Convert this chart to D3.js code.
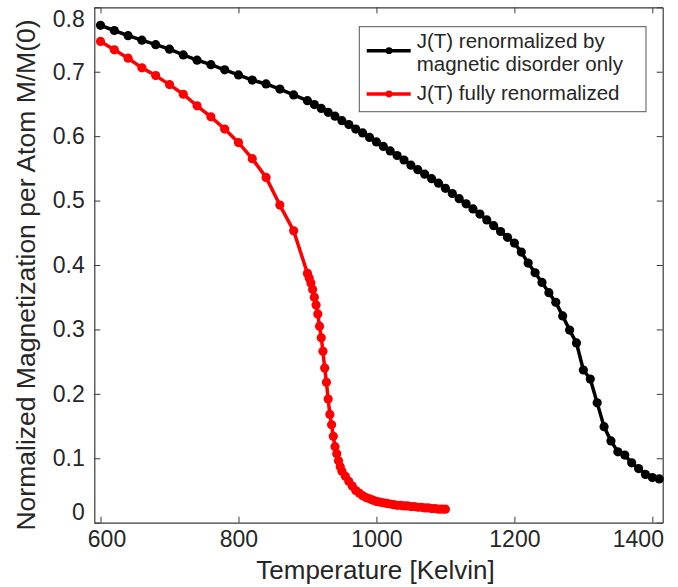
<!DOCTYPE html>
<html>
<head>
<meta charset="utf-8">
<script src="https://cdn.jsdelivr.net/npm/d3@7"></script>
<style>
  body { margin: 0; background: #fff; }
  text { font-family: "Liberation Sans", Arial, Helvetica, sans-serif; fill: #262626; }
</style>
</head>
<body>
<div class="chart"></div>
<script>
// Data
//= ================================
var blackTemps = [600, 620, 640, 660, 680, 700, 720, 740, 760, 780, 800, 820, 840, 860, 880,
  900, 910, 920, 930, 940, 950, 960, 970, 980, 990, 1000, 1010, 1020, 1030, 1040, 1050,
  1060, 1070, 1080, 1090, 1100, 1110, 1120, 1130, 1140, 1150, 1160, 1170, 1180, 1190, 1200,
  1210, 1220, 1230, 1240, 1250, 1260, 1270, 1280, 1290, 1300, 1310, 1320, 1330, 1340, 1350,
  1360, 1370, 1380, 1390, 1400, 1410];
var blackMag = [0.772, 0.764, 0.756, 0.749, 0.742, 0.735, 0.726, 0.718, 0.711, 0.703, 0.695, 0.687, 0.681, 0.673, 0.664,
  0.655, 0.649, 0.643, 0.637, 0.631, 0.624, 0.618, 0.611, 0.605, 0.598, 0.591, 0.584, 0.577, 0.570, 0.563, 0.555,
  0.548, 0.541, 0.534, 0.527, 0.519, 0.511, 0.503, 0.495, 0.487, 0.479, 0.470, 0.461, 0.452, 0.443, 0.434,
  0.420, 0.403, 0.388, 0.373, 0.357, 0.342, 0.321, 0.299, 0.279, 0.237, 0.223, 0.186, 0.149, 0.127, 0.110,
  0.105, 0.093, 0.084, 0.075, 0.070, 0.068];

var redTemps = [600, 620, 640, 660, 680, 700, 720, 740, 760, 780, 800, 820, 840, 860, 880,
  900, 902.5, 905, 907.5, 910, 912.5, 915, 917.5, 920, 922.5, 925, 927.5, 930, 932.5, 935,
  937.5, 940, 942.5, 945, 947.5, 950,
  955, 960, 965, 970, 975, 980, 985, 990, 995, 1000, 1005, 1010, 1015, 1020, 1025,
  1030, 1035, 1040, 1045, 1050, 1055, 1060, 1065, 1070, 1075, 1080, 1085, 1090, 1095, 1100];
var redMag = [0.747, 0.734, 0.721, 0.706, 0.694, 0.680, 0.665, 0.647, 0.630, 0.611, 0.590, 0.565, 0.536, 0.493, 0.453,
  0.387, 0.380, 0.372, 0.362, 0.350, 0.338, 0.324, 0.305, 0.287, 0.266, 0.240, 0.218, 0.192, 0.168, 0.152,
  0.134, 0.118, 0.107, 0.096, 0.087, 0.080,
  0.072, 0.064, 0.057, 0.050, 0.046, 0.042, 0.039, 0.037, 0.035, 0.033, 0.032, 0.031, 0.030, 0.029, 0.028,
  0.027, 0.027, 0.026, 0.026, 0.025, 0.025, 0.024, 0.024, 0.023, 0.023, 0.022, 0.022, 0.021, 0.021, 0.021];

var xTicks = [600, 800, 1000, 1200, 1400];
var yTicks = [0, 0.1, 0.2, 0.3, 0.4, 0.5, 0.6, 0.7, 0.8];
var yTickLabels = ["0", "0.1", "0.2", "0.3", "0.4", "0.5", "0.6", "0.7", "0.8"];

var seriesNames = ["J(T) renormalized by|magnetic disorder only", "J(T) fully renormalized"];
var seriesColors = ["#000000", "#ff0000"];

// Step 0: Set up the chart
//= ================================
var svgWidth = 678;
var svgHeight = 587;
var margin = { top: 7.3, right: 15.3, bottom: 64.3, left: 94.3 };
var width = svgWidth - margin.left - margin.right;
var height = svgHeight - margin.top - margin.bottom;

var svg = d3.select(".chart")
  .append("svg")
  .attr("width", svgWidth)
  .attr("height", svgHeight);

var chart = svg.append("g")
  .attr("transform", "translate(" + margin.left + "," + margin.top + ")");

var xLinearScale = d3.scaleLinear().domain([591, 1415]).range([0, width]);
var yLinearScale = d3.scaleLinear().domain([0, 0.8]).range([height, 0]);

// Axes (ticks pointing inward, box on)
var bottomAxis = d3.axisBottom(xLinearScale).tickValues(xTicks)
  .tickSizeInner(-6).tickSizeOuter(0).tickPadding(7.5).tickFormat(d3.format("d"));
var topAxis = d3.axisTop(xLinearScale).tickValues(xTicks)
  .tickSizeInner(-6).tickSizeOuter(0).tickFormat("");
var leftAxis = d3.axisLeft(yLinearScale).tickValues(yTicks)
  .tickSizeInner(-6).tickSizeOuter(0).tickPadding(9.5)
  .tickFormat(function(d, i) { return yTickLabels[i]; });
var rightAxis = d3.axisRight(yLinearScale).tickValues(yTicks)
  .tickSizeInner(-6).tickSizeOuter(0).tickFormat("");

var gx = chart.append("g").attr("class", "x-axis")
  .attr("transform", "translate(0," + height + ")").call(bottomAxis);
var gy = chart.append("g").attr("class", "y-axis").call(leftAxis);
chart.append("g").attr("transform", "translate(0,0)").call(topAxis);
chart.append("g").attr("transform", "translate(" + width + ",0)").call(rightAxis);

chart.selectAll(".domain").attr("stroke", "#3a3a3a").attr("stroke-width", 1.2);
chart.selectAll(".tick line").attr("stroke", "#3a3a3a").attr("stroke-width", 1);
chart.selectAll(".tick text").style("font-size", "23px").attr("fill", "#262626");

// edge labels are pulled inside the box in the original
gx.selectAll(".tick text").attr("dx", function(d) {
  if (d === 600) return 6;
  if (d === 1400) return -14.5;
  return 0;
});
gy.selectAll(".tick text").attr("transform", function(d) {
  if (d === 0) return "translate(0,-11)";
  if (d === 0.8) return "translate(0,12)";
  return null;
});

// Curves
var line = d3.line()
  .x(function(d) { return xLinearScale(d.t); })
  .y(function(d) { return yLinearScale(d.m); });

var series = [
  { name: seriesNames[0], color: seriesColors[0], data: blackTemps.map(function(t, i) { return { t: t, m: blackMag[i] }; }) },
  { name: seriesNames[1], color: seriesColors[1], data: redTemps.map(function(t, i) { return { t: t, m: redMag[i] }; }) }
];

series.forEach(function(s) {
  chart.append("path")
    .datum(s.data)
    .attr("fill", "none")
    .attr("stroke", s.color)
    .attr("stroke-width", 3.5)
    .attr("stroke-linejoin", "round")
    .attr("d", line);

  chart.selectAll(null)
    .data(s.data)
    .enter()
    .append("circle")
    .attr("cx", function(d) { return xLinearScale(d.t); })
    .attr("cy", function(d) { return yLinearScale(d.m); })
    .attr("r", 4.6)
    .attr("fill", s.color);
});

// Axis labels
svg.append("text")
  .attr("x", margin.left + width / 2 - 3)
  .attr("y", 579)
  .attr("text-anchor", "middle")
  .style("font-size", "26px")
  .text("Temperature [Kelvin]");

svg.append("text")
  .attr("transform", "translate(35,275) rotate(-90)")
  .attr("text-anchor", "middle")
  .style("font-size", "26.5px")
  .text("Normalized Magnetization per Atom M/M(0)");

// Legend
var legend = svg.append("g").attr("class", "legend");
legend.append("rect")
  .attr("x", 359.3).attr("y", 26.7)
  .attr("width", 286.7).attr("height", 85)
  .attr("fill", "#fff")
  .attr("stroke", "#555")
  .attr("stroke-width", 1);

var legendRows = [
  { lineY: 50.7, textY: 47.5 },
  { lineY: 94, textY: 100 }
];

series.forEach(function(s, i) {
  var row = legendRows[i];
  legend.append("line")
    .attr("x1", 366.7).attr("x2", 410.7)
    .attr("y1", row.lineY).attr("y2", row.lineY)
    .attr("stroke", s.color).attr("stroke-width", 3.5);
  legend.append("circle")
    .attr("cx", 389).attr("cy", row.lineY).attr("r", 3.4)
    .attr("fill", s.color);
  // multi-line entries go in one text element
  var label = legend.append("text")
    .attr("x", 416.7)
    .attr("y", row.textY)
    .style("font-size", "20.5px");
  s.name.split("|").forEach(function(part, k) {
    label.append("tspan")
      .attr("x", 416.7)
      .attr("dy", k === 0 ? 0 : 23.5)
      .text(part);
  });
});
</script>
</body>
</html>
